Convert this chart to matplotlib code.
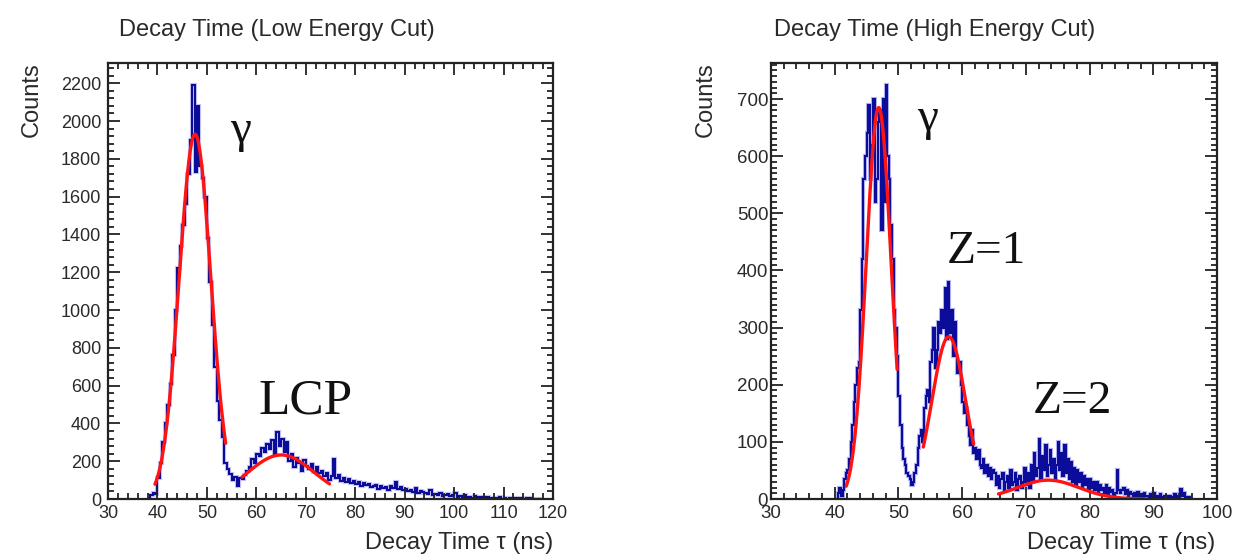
import numpy as np
import matplotlib
matplotlib.use("Agg")
import matplotlib.pyplot as plt
from matplotlib.ticker import MultipleLocator

# ---------------- data ----------------
# Low energy cut: counts per 0.5 ns bin, first bin starts at 38.0 ns
low_start = 38.0
low_bin_width = 0.5
low_counts = [
    0, 20, 30, 25, 110, 190, 300, 400, 500, 610,
    760, 1000, 1220, 1340, 1450, 1560, 1720, 1900, 2190, 1730,
    2080, 1760, 1700, 1600, 1380, 1150, 920, 700, 520, 420,
    330, 190, 160, 130, 100, 115, 70, 110, 105, 125,
    150, 170, 210, 190, 240, 225, 270, 250, 290, 265,
    310, 240, 355, 280, 320, 250, 300, 200, 240, 170,
    215, 190, 150, 205, 175, 160, 185, 145, 170, 135,
    150, 120, 135, 100, 120, 210, 110, 125, 95, 110,
    90, 105, 85, 95, 80, 90, 70, 85, 75, 80,
    65, 70, 75, 55, 70, 60, 65, 50, 70, 60,
    90, 55, 65, 45, 55, 40, 50, 35, 60, 30,
    40, 35, 30, 25, 45, 20, 25, 20, 30, 15,
    20, 25, 15, 20, 30, 10, 15, 10, 20, 8,
    12, 5, 15, 10, 5, 8, 3, 12, 5, 6,
    3, 4, 8, 2, 5, 2, 4, 0, 3, 2,
    5, 3, 0, 4, 3, 2, 0, 0, 2, 0,
]

# High energy cut: counts per 0.25 ns bin, first bin starts at 40.0 ns
high_start = 40.0
high_bin_width = 0.25
high_counts = [
    0, 0, 10, 20,        5, 15, 35, 45,        50, 70, 100, 130,
    170, 200, 230, 240,  330, 420, 560, 600,   640, 690, 560, 620,
    700, 520, 560, 660,  680, 470, 700, 520,   725, 600, 560, 480,
    420, 330, 300, 250,  180, 130, 90, 70,     60, 45, 40, 35,
    25, 30, 45, 60,      90, 110, 120, 100,    160, 180, 190, 170,
    240, 260, 300, 230,  260, 310, 290, 330,   300, 370, 280, 380,
    290, 330, 250, 310,  250, 220, 240, 200,   170, 150, 160, 130,
    110, 95, 120, 80,    90, 70, 85, 60,       55, 70, 45, 60,
    40, 55, 35, 50,      45, 25, 40, 20,       35, 45, 15, 30,
    40, 20, 50, 25,      30, 45, 15, 35,       40, 20, 30, 55,
    25, 45, 20, 60,      30, 80, 40, 55,       105, 35, 75, 50,
    95, 40, 60, 85,      45, 70, 35, 60,       100, 50, 80, 40,
    95, 45, 70, 35,      65, 30, 55, 25,       50, 30, 45, 20,
    40, 25, 35, 15,      35, 20, 30, 15,       30, 10, 25, 15,
    20, 10, 25, 8,       20, 12, 15, 5,        10, 50, 15, 10,
    15, 20, 8, 15,       5, 12, 8, 3,          10, 6, 12, 4,
    8, 3, 10, 5,         6, 2, 8, 4,           10, 3, 6, 2,
    8, 4, 3, 6,          5, 2, 6, 3,           4, 8, 2, 5,
    3, 18, 6, 10,        4, 2, 3, 0,
]

# Gaussian fit results: amplitude, mean, sigma, fit range low, fit range high
low_fit_amp = [1930, 233]
low_fit_mean = [47.6, 65.0]
low_fit_sigma = [3.2, 6.7]
low_fit_lo = [39.5, 57.1]
low_fit_hi = [53.8, 74.8]

high_fit_amp = [685, 284, 33]
high_fit_mean = [46.9, 57.9, 73.5]
high_fit_sigma = [1.95, 2.65, 4.8]
high_fit_lo = [41.8, 53.9, 65.7]
high_fit_hi = [49.8, 61.8, 89.0]

# ---------------- style ----------------
W, H = 1238, 554
fig = plt.figure(figsize=(W / 100, H / 100), dpi=100)
sans = ["Liberation Sans", "DejaVu Sans"]
serif = ["Liberation Serif", "DejaVu Serif"]
hist_color = "#0c0c9a"
fit_color = "#ff1414"
axis_color = "#222222"
text_color = "#2a2a2a"


def px_axes(x0, x1, y0, y1):
    return fig.add_axes([x0 / W, 1 - y1 / H, (x1 - x0) / W, (y1 - y0) / H])


def style_axes(ax, xlim, ylim, xmaj, xmin, ymaj, ymin, fs, ypad):
    ax.set_xlim(*xlim)
    ax.set_ylim(*ylim)
    ax.xaxis.set_major_locator(MultipleLocator(xmaj))
    ax.xaxis.set_minor_locator(MultipleLocator(xmin))
    ax.yaxis.set_major_locator(MultipleLocator(ymaj))
    ax.yaxis.set_minor_locator(MultipleLocator(ymin))
    ax.tick_params(which="both", direction="in", top=True, right=True,
                   colors=axis_color, width=1.3)
    ax.tick_params(which="major", length=8.5)
    ax.tick_params(which="minor", length=4.5)
    ax.tick_params(axis="x", labelsize=fs, pad=4)
    ax.tick_params(axis="y", labelsize=fs, pad=ypad)
    for lab in ax.get_xticklabels() + ax.get_yticklabels():
        lab.set_family(sans)
        lab.set_color(text_color)
    for sp in ax.spines.values():
        sp.set_linewidth(1.6)
        sp.set_color(axis_color)


def draw_hist(ax, start, width, counts, halo_alpha):
    counts = np.asarray(counts, dtype=float)
    edges = start + width * np.arange(len(counts) + 1)
    ax.stairs(counts, edges, color="#4a4ae0", linewidth=3.0, alpha=halo_alpha)
    ax.stairs(counts, edges, color=hist_color, linewidth=1.5)


def draw_fits(ax, amps, means, sigmas, los, his):
    for a, m, s, lo, hi in zip(amps, means, sigmas, los, his):
        x = np.linspace(lo, hi, 200)
        ax.plot(x, a * np.exp(-0.5 * ((x - m) / s) ** 2),
                color=fit_color, linewidth=2.4, solid_capstyle="round")


# ---------------- left panel ----------------
axL = px_axes(108, 553, 63, 499)
draw_hist(axL, low_start, low_bin_width, low_counts, 0.3)
draw_fits(axL, low_fit_amp, low_fit_mean, low_fit_sigma, low_fit_lo, low_fit_hi)
style_axes(axL, (30, 120), (0, 2307), 10, 2, 200, 40, 13, 5)
axL.text(54.7, 1890, "γ", family=serif, fontsize=34, color="#111111")
axL.text(60.4, 455, "LCP", family=serif, fontsize=37, color="#111111")

# ---------------- right panel ----------------
axR = px_axes(771, 1217, 63, 499)
draw_hist(axR, high_start, high_bin_width, high_counts, 0.4)
draw_fits(axR, high_fit_amp, high_fit_mean, high_fit_sigma, high_fit_lo, high_fit_hi)
style_axes(axR, (30, 100), (0, 763), 10, 2, 100, 10, 13.5, 2)
axR.text(52.9, 646, "γ", family=serif, fontsize=34, color="#111111")
axR.text(57.6, 413, "Z=1", family=serif, fontsize=34, color="#111111")
axR.text(71.0, 150, "Z=2", family=serif, fontsize=34, color="#111111")

# ---------------- titles and axis labels ----------------
fig.text(277 / W, 1 - 30 / H, "Decay Time (Low Energy Cut)", family=sans,
         fontsize=17, ha="center", va="center", color=text_color)
fig.text(935 / W, 1 - 30 / H, "Decay Time (High Energy Cut)", family=sans,
         fontsize=17, ha="center", va="center", color=text_color)

for xc in (32, 706):
    fig.text(xc / W, 1 - 62 / H, "Counts", family=sans, fontsize=17,
             rotation=90, ha="center", va="top", color=text_color)

for xr in (553, 1215):
    fig.text(xr / W, 1 - 549 / H, "Decay Time τ (ns)", family=sans,
             fontsize=17, ha="right", va="baseline", color=text_color)

fig.savefig("out.png", dpi=100)
